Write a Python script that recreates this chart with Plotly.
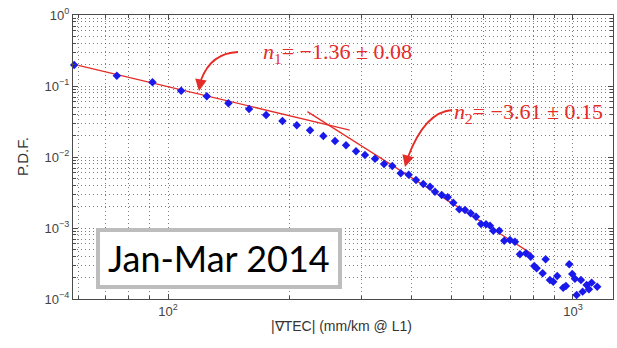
import plotly.graph_objects as go

# ---- data ----
tec_grad = [58.6, 74.7, 91.5, 107.7, 124.6, 140.9, 158.5, 174.6, 191.6, 207.9,
            224.2, 241.8, 258.4, 275.1, 291.2, 306.4, 324.4, 341.5, 357.9, 375.5,
            392.9, 409.6, 426.9, 443.6, 456.4, 474.1, 490.5, 506.4, 524.0, 541.2,
            559.1, 576.3, 592.9, 610.0, 624.1, 635.8, 657.7, 676.7, 698.9, 719.1,
            739.8, 765.6, 786.3, 802.4, 813.5, 841.7, 856.2, 877.3, 894.1, 914.6,
            946.2, 961.0, 979.3, 996.1, 1011.4, 1021.2, 1046.6, 1056.8, 1081.0, 1095.3,
            1112.3, 1122.4, 1148.2]
pdf = [0.1976, 0.1397, 0.1127, 0.0859, 0.0716, 0.0571, 0.0474, 0.0390, 0.0321, 0.0280,
       0.0238, 0.01976, 0.01680, 0.01462, 0.01203, 0.01067, 0.00946, 0.00797, 0.00747, 0.00589,
       0.00563, 0.00474, 0.00417, 0.00382, 0.00325, 0.00292, 0.00271, 0.00227, 0.00183, 0.00179,
       0.00161, 0.00144, 0.00114, 0.00113, 0.00108, 0.000916, 0.000916, 0.000662, 0.000678, 0.000641,
       0.000426, 0.000440, 0.000394, 0.000292, 0.000271, 0.000230, 0.000362, 0.000185, 0.000175, 0.000211,
       0.000144, 0.000152, 0.000308, 0.000225, 0.000193, 0.000114, 0.000185, 0.000127, 0.000157, 0.000137,
       0.000170, 0.0000916, 0.000149]

fit1_x = [60.0, 281.0]
fit1_y = [0.195, 0.0240]
fit2_x = [220.8, 790.0]
fit2_y = [0.0435, 0.000436]

x_major_ticks = [100, 1000]
x_major_text = ["10<sup>2</sup>", "10<sup>3</sup>"]
y_major_ticks = [1e-4, 1e-3, 1e-2, 1e-1, 1]
y_major_text = ["10<sup>−4</sup>", "10<sup>−3</sup>", "10<sup>−2</sup>", "10<sup>−1</sup>", "10<sup>0</sup>"]
x_minor_ticks = [d * 10 ** e for e in (1, 2, 3) for d in range(2, 10)]
y_minor_ticks = [d * 10.0 ** e for e in (-4, -3, -2, -1) for d in range(2, 10)]

label1 = "<i>n</i><sub>1</sub>= −1.36 ± 0.08"
label2 = "<i>n</i><sub>2</sub>= −3.61 ± 0.15"
period = "Jan-Mar 2014"

RED = "rgb(228,45,40)"
GRID = "rgba(70,70,70,0.7)"

fig = go.Figure()
fig.add_trace(go.Scatter(x=fit1_x, y=fit1_y, mode="lines",
                         line=dict(color=RED, width=1.3), showlegend=False))
fig.add_trace(go.Scatter(x=fit2_x, y=fit2_y, mode="lines",
                         line=dict(color=RED, width=1.3), showlegend=False))
fig.add_trace(go.Scatter(x=tec_grad, y=pdf, mode="markers", cliponaxis=False,
                         marker=dict(symbol="diamond", size=6.5, color="rgb(25,25,235)",
                                     line=dict(width=0)),
                         showlegend=False))

axis_common = dict(
    type="log", showline=True, linecolor="#4a4a4a", linewidth=1, mirror="ticks",
    ticks="inside", ticklen=5, tickcolor="#4a4a4a", automargin=False,
    ticklabeloverflow="allow",
    showgrid=True, gridcolor=GRID, gridwidth=1, griddash="1px,3px",
    tickfont=dict(family="Liberation Sans", size=13, color="#444"),
    zeroline=False,
)

fig.update_xaxes(**axis_common, range=[1.765, 3.099], tickmode="array",
                 tickvals=x_major_ticks, ticktext=x_major_text,
                 minor=dict(tickmode="array", tickvals=x_minor_ticks, ticks="inside",
                            ticklen=3, tickcolor="#4a4a4a", showgrid=True,
                            gridcolor=GRID, gridwidth=1, griddash="1px,3px"))
fig.update_yaxes(**axis_common, range=[-4, 0], tickmode="array",
                 tickvals=y_major_ticks, ticktext=y_major_text,
                 minor=dict(tickmode="array", tickvals=y_minor_ticks, ticks="inside",
                            ticklen=3, tickcolor="#4a4a4a", showgrid=True,
                            gridcolor=GRID, gridwidth=1, griddash="1px,3px"))


# page pixel -> paper coordinates (plot area spans x 73..613, y 15..299 on the page)
def px(xp):
    return (xp - 73) / 540.0


def py(yp):
    return (299 - yp) / 284.0


def path(points):
    (x0, y0), (cx, cy), (x1, y1) = points
    return "M {:.4f},{:.4f} Q {:.4f},{:.4f} {:.4f},{:.4f}".format(
        px(x0), py(y0), px(cx), py(cy), px(x1), py(y1))


shapes = [
    dict(type="path", xref="paper", yref="paper",
         path=path([(238, 52), (211, 53), (201, 80)]),
         line=dict(color=RED, width=1.8)),
    dict(type="path", xref="paper", yref="paper",
         path=path([(452, 110), (425, 112), (408, 157)]),
         line=dict(color=RED, width=1.8)),
    dict(type="rect", xref="paper", yref="paper", layer="above",
         x0=px(98), x1=px(340), y0=py(287), y1=py(230),
         line=dict(color="#bdbdbd", width=4), fillcolor="white"),
]

annotations = [
    dict(xref="paper", yref="paper", x=px(199), y=py(91), ax=2, ay=-12,
         showarrow=True, arrowhead=2, arrowsize=1.3, arrowwidth=1.8,
         arrowcolor=RED, text="", standoff=0),
    dict(xref="paper", yref="paper", x=px(405), y=py(167), ax=3, ay=-11,
         showarrow=True, arrowhead=2, arrowsize=1.3, arrowwidth=1.8,
         arrowcolor=RED, text="", standoff=0),
    dict(xref="paper", yref="paper", x=px(261), y=py(53), xanchor="left", yanchor="middle",
         text=label1, showarrow=False,
         font=dict(family="Liberation Serif", size=22, color=RED)),
    dict(xref="paper", yref="paper", x=px(452), y=py(113), xanchor="left", yanchor="middle",
         text=label2, showarrow=False,
         font=dict(family="Liberation Serif", size=22, color=RED)),
    dict(xref="paper", yref="paper", x=px(219), y=py(258), xanchor="center", yanchor="middle",
         text=period, showarrow=False,
         font=dict(family="Lato", size=36, color="black")),
    dict(xref="paper", yref="paper", x=px(22), y=py(157), xanchor="center", yanchor="middle",
         text="P.D.F.", textangle=-90, showarrow=False,
         font=dict(family="Liberation Sans", size=15, color="#333")),
    dict(xref="paper", yref="paper", x=px(341), y=py(326), xanchor="center", yanchor="middle",
         text="|∇TEC| (mm/km @ L1)", showarrow=False,
         font=dict(family="Liberation Sans", size=14, color="#333")),
]

fig.update_layout(
    width=617, height=348,
    margin=dict(l=73, r=4, t=15, b=49, pad=0, autoexpand=False),
    paper_bgcolor="white", plot_bgcolor="white",
    shapes=shapes, annotations=annotations,
    showlegend=False,
)

# remove the default 8px page-body margin so the figure sits at the page's top-left
fig.write_html("out.html", config={"displayModeBar": False},
               post_script="document.body.style.margin='0px';")
